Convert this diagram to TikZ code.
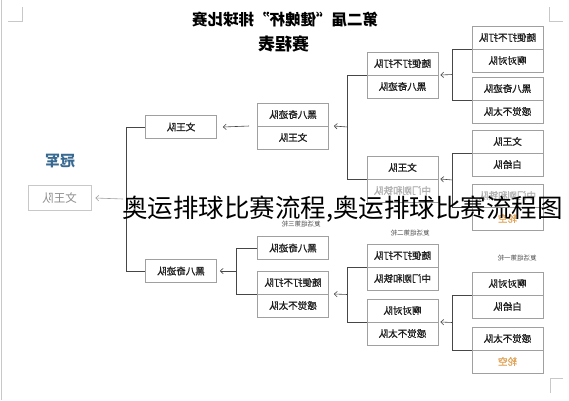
\documentclass[tikz,border=0pt]{standalone}
\usepackage{fontspec}
\usepackage{graphicx}
\newfontfamily\cjk{Noto Sans CJK SC}
\newfontfamily\cjkheavy[FakeBold=1.3]{Noto Sans CJK SC}
\usetikzlibrary{arrows.meta,calc}
\definecolor{boxline}{RGB}{160,160,160}
\definecolor{linecol}{RGB}{70,70,70}
\definecolor{faint}{RGB}{175,175,175}
\definecolor{orangetxt}{RGB}{225,165,90}
\definecolor{champblue}{RGB}{55,105,145}
\definecolor{marks}{RGB}{200,200,200}
\newcommand\mkpair[4]{%
  \node[pairbox] (#1) at (#2) {};
  \draw[boxline,line width=0.6pt] (#1.west) -- (#1.east);
  \node[half] (#1t) at ($(#1.center)+(0,-11.5)$) {\reflectbox{#3}};
  \node[half] (#1b) at ($(#1.center)+(0,11.5)$) {\reflectbox{#4}};
}
\begin{document}
\begin{tikzpicture}[x=1pt,y=-1pt,
  pairbox/.style={draw=boxline,line width=0.6pt,minimum width=71pt,minimum height=46pt,inner sep=0pt,fill=white},
  single/.style={draw=boxline,line width=0.6pt,minimum width=71pt,minimum height=23pt,inner sep=0pt,fill=white,font=\cjkheavy\fontsize{9.5}{11}\selectfont,text=black!88},
  half/.style={inner sep=0pt,font=\cjkheavy\fontsize{9.5}{11}\selectfont,text=black!88},
  brk/.style={draw=linecol,line width=0.75pt},
  arr/.style={draw=linecol,line width=0.6pt,-{Straight Barb[length=3pt,width=5.5pt]}},
  lbl/.style={inner sep=0pt,font=\cjk\fontsize{6.5}{8}\selectfont,text=black!70}]
\useasboundingbox (0,0) rectangle (569,400);
\fill[white] (0,0) rectangle (569,400);
% page marks
\draw[marks,line width=0.8pt] (1.5,0) -- (1.5,400);
\draw[marks,line width=0.6pt] (8,21) -- (22,21) -- (22,7);
\draw[marks,line width=0.6pt] (549,7) -- (549,21) -- (563,21);
\draw[marks,line width=0.6pt] (563,378) -- (550,378) -- (550,393);
% titles
\node[inner sep=0pt] (title) at (285,19.5) {\reflectbox{\cjk\bfseries\fontsize{15.5}{17}\selectfont 第二届“健魄杯”排球比赛}};
\node[inner sep=0pt] (subtitle) at (283.5,44) {\reflectbox{\cjk\bfseries\fontsize{17}{19}\selectfont 赛程表}};
% champion
\node[inner sep=0pt,text=champblue] (champlbl) at (60,161.5) {\reflectbox{\cjk\bfseries\fontsize{15}{17}\selectfont 冠军}};
\node[draw=marks,line width=0.6pt,minimum width=63pt,minimum height=25pt,inner sep=0pt,text=black!45,font=\cjk\fontsize{11.5}{13}\selectfont] (champ) at (59.5,198) {\reflectbox{文王队}};
% column A
\node[single] (a1) at (181,127) {\reflectbox{文王队}};
\node[single] (a2) at (181,271) {\reflectbox{黑八奇迹队}};
% column B
\mkpair{b1}{293,126}{黑八奇迹队}{文王队}
\node[single] (b2) at (293,248) {\reflectbox{黑八奇迹队}};
\mkpair{b3}{293,294}{随便打不打队}{感觉不太队}
% column C
\mkpair{c1}{402.5,75}{随便打不打队}{黑八奇迹队}
\mkpair{c2}{402.5,179}{文王队}{\color{faint}中门刚和铁队}
\mkpair{c3}{402.5,267}{随便打不打队}{中门刚和铁队}
\mkpair{c4}{402.5,322}{啊对对队}{感觉不太队}
% column D
\mkpair{d1}{507.5,49}{随便打不打队}{啊对对队}
\mkpair{d2}{507.5,100}{黑八奇迹队}{感觉不太队}
\mkpair{d3}{507.5,153}{文王队}{白给队}
\mkpair{d4}{507.5,207}{\color{faint}中门刚和铁队}{\color{orangetxt}轮空}
\mkpair{d5}{507.5,295}{啊对对队}{白给队}
\mkpair{d6}{507.5,350}{感觉不太队}{\color{orangetxt}轮空}
% round labels
\node[lbl] (r3) at (301,224) {\reflectbox{复活组第三轮}};
\node[lbl] (r2) at (410,233.5) {\reflectbox{复活组第二轮}};
\node[lbl] (r1) at (517,258.5) {\reflectbox{复活组第一轮}};
% brackets D -> C
\coordinate (jd1) at ($(d1.west)!0.5!(d2.west)+(-19,0)$);
\draw[brk] (d1.west) -| (jd1) |- (d2.west);
\draw[arr] (jd1) -- ($(c1.east)+(2,0)$);
\coordinate (jd2) at ($(d3.west)!0.5!(d4.west)+(-19,0)$);
\draw[brk] (d3.west) -| (jd2) |- (d4.west);
\draw[arr] (jd2) -- ($(c2.east)+(2,0)$);
\coordinate (jd3) at ($(d5.west)!0.5!(d6.west)+(-19,0)$);
\draw[brk] (d5.west) -| (jd3) |- (d6.west);
\draw[arr] (jd3) -- ($(c4.east)+(2,0)$);
% brackets C -> B
\coordinate (jc1) at ($(c1.west)!0.5!(c2.west)+(-19,0)$);
\draw[brk] (c1.west) -| (jc1) |- (c2.west);
\draw[arr] (jc1) -- ($(b1.east)+(5,0)$);
\coordinate (jc2) at ($(c3.west)!0.5!(c4.west)+(-19,0)$);
\draw[brk] (c3.west) -| (jc2) |- (c4.west);
\draw[arr] (jc2) -- ($(b3.east)+(5,0)$);
% B -> A
\draw[arr] ($(b1.west)+(-8,0)$) -- ($(a1.east)+(6,0)$);
\coordinate (jb) at ($(b2.west)!0.5!(b3.west)+(-21,0)$);
\draw[brk] (b2.west) -| (jb) |- (b3.west);
\draw[arr] (jb) -- ($(a2.east)+(3,0)$);
% A -> champion
\coordinate (ja) at ($(a1.west)!0.5!(a2.west)+(-19,0)$);
\draw[brk] (a1.west) -| (ja) |- (a2.west);
\draw[draw=marks!80!black,line width=0.6pt,-{Straight Barb[length=3pt,width=5.5pt]}] ($(ja)+(-3,0)$) -- ($(champ.east)+(4,0)$);
% watermark
\node[anchor=west,inner sep=0pt,font=\cjk\fontsize{25.5}{28}\selectfont,text=black] (wm) at (122,209) {奥运排球比赛流程,奥运排球比赛流程图};
\end{tikzpicture}
\end{document}
